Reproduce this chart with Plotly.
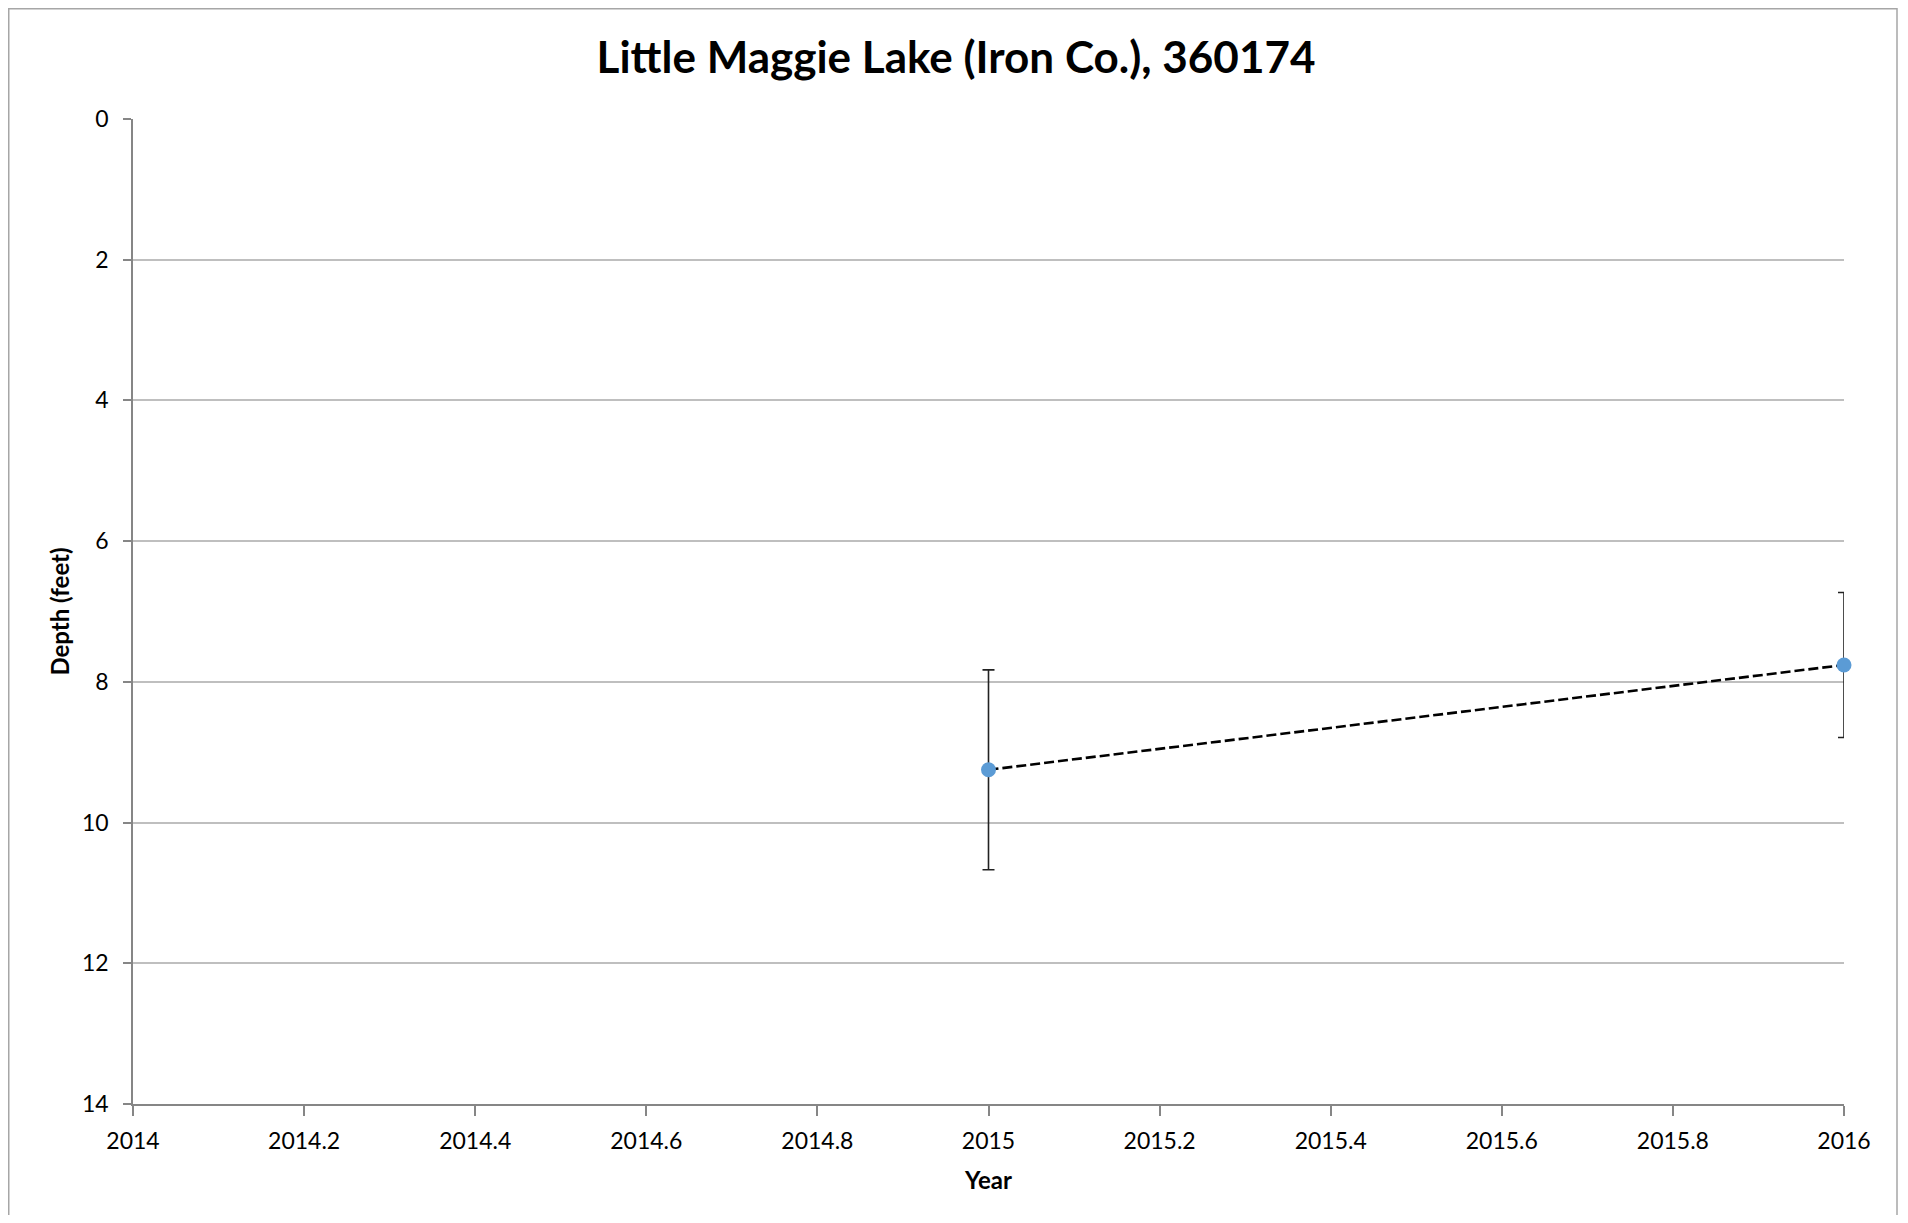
import plotly.graph_objects as go

years = [2015, 2016]
depths = [9.25, 7.76]
errors = [1.42, 1.03]
x_ticks = [2014, 2014.2, 2014.4, 2014.6, 2014.8, 2015, 2015.2, 2015.4, 2015.6, 2015.8, 2016]
y_ticks = [0, 2, 4, 6, 8, 10, 12, 14]

FONT = "Lato, 'Open Sans', sans-serif"

fig = go.Figure()
fig.add_trace(go.Scatter(
    x=years, y=depths, mode="lines",
    line=dict(color="black", width=2.6, dash="10px,4px"),
    hoverinfo="skip", showlegend=False, cliponaxis=False,
))
fig.add_trace(go.Scatter(
    x=years, y=depths, mode="markers",
    marker=dict(color="#5b9bd5", size=15),
    error_y=dict(type="data", array=errors, visible=True, color="#222222", thickness=1.6, width=6),
    showlegend=False, cliponaxis=False,
))

# page body has an 8px margin; size the figure so the plot area lands where the reference has it
W, H = 1890, 1207
L, R, T, B = 125, 54, 111, 111
pw, ph = W - L - R, H - T - B

fig.update_layout(
    width=W, height=H,
    margin=dict(l=L, r=R, t=T, b=B),
    paper_bgcolor="white", plot_bgcolor="white",
    font=dict(family=FONT, size=23, color="black"),
    title=dict(text="<b>Little Maggie Lake (Iron Co.), 360174</b>",
               x=(956 - 8) / W, xanchor="center", y=1 - 50 / H, yanchor="middle",
               font=dict(size=44, family=FONT, color="black")),
    xaxis=dict(range=[2014, 2016], tickvals=x_ticks, ticktext=[f"{v:g}" for v in x_ticks],
               showgrid=False, zeroline=False, showline=True, linecolor="#868686", linewidth=1.5,
               ticks="outside", ticklen=10, tickcolor="#868686", tickwidth=1.5, ticklabelstandoff=6,
               title=dict(text="<b>Year</b>", font=dict(size=24, family=FONT), standoff=19),
               tickfont=dict(size=23, family=FONT)),
    yaxis=dict(range=[14, 0], tickvals=y_ticks, showgrid=True, gridcolor="#bfbfbf", gridwidth=2,
               zeroline=False, showline=True, linecolor="#868686", linewidth=1.5,
               ticks="outside", ticklen=8, tickcolor="#868686", tickwidth=1.5, ticklabelstandoff=10,
               title=dict(text="<b>Depth (feet)</b>", font=dict(size=24, family=FONT), standoff=6),
               tickfont=dict(size=23, family=FONT)),
    shapes=[dict(type="rect", xref="paper", yref="paper",
                 x0=(0.75 - L) / pw, x1=(W - 1 - L) / pw,
                 y0=(H - B - (H + 40)) / ph, y1=(H - B - 0.75) / ph,
                 line=dict(color="#a6a6a6", width=1.5), fillcolor="rgba(0,0,0,0)", layer="below")],
)

fig.write_html("out.html")
